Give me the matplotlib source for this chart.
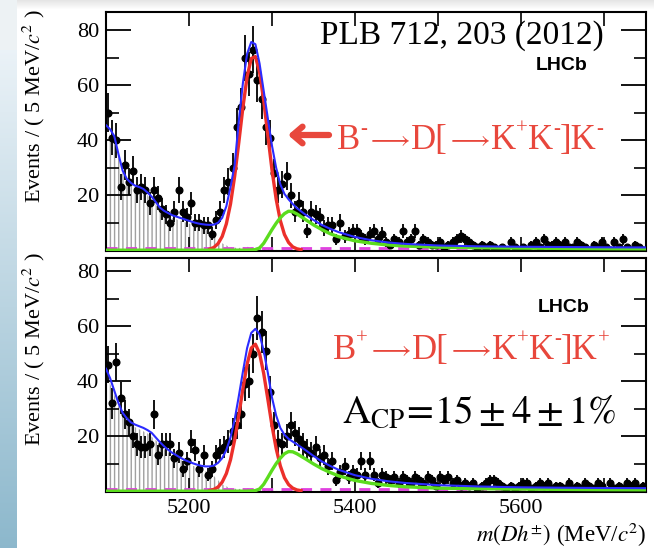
import numpy as np
import matplotlib
matplotlib.use("Agg")
import matplotlib.pyplot as plt
from matplotlib.ticker import MultipleLocator, FixedLocator, FuncFormatter

plt.rcParams['font.family'] = ['Liberation Serif', 'DejaVu Serif']
plt.rcParams['mathtext.fontset'] = 'stix'
plt.rcParams['hatch.color'] = '#9a9a9a'
plt.rcParams['hatch.linewidth'] = 1.0

# ---------------- data ----------------
bin_centers = np.arange(5102.5, 5750, 5.0)   # 130 bins of 5 MeV

top_counts = [
    50, 41, 40, 23, 31, 25, 29, 22, 23, 22,
    17, 22, 19, 15, 13, 10, 14, 22, 14, 12,
    17, 10, 10, 9, 9, 6, 11, 14, 22, 25,
    30, 45, 52, 70, 64, 73, 62, 55, 45, 41,
    28, 22, 24, 27, 20, 14, 17, 14, 7, 14,
    13, 12, 8, 9, 9, 4, 10, 5, 6, 7,
    7, 5, 4, 6, 7, 4, 6, 3, 2, 4,
    3, 7, 3, 4, 7, 2, 4, 3, 2, 2,
    3, 1, 2, 3, 4, 5, 4, 3, 2, 1,
    2, 1, 2, 1, 0, 1, 0, 3, 1, 0,
    1, 0, 2, 3, 1, 4, 2, 2, 3, 2,
    3, 1, 1, 3, 2, 1, 0, 2, 1, 3,
    1, 0, 3, 1, 4, 1, 0, 2, 1, 0]

bot_counts = [
    46, 32, 47, 34, 28, 25, 20, 17, 16, 16,
    17, 28, 13, 17, 17, 17, 12, 14, 8, 11,
    18, 15, 8, 13, 6, 8, 13, 15, 16, 18,
    22, 24, 28, 39, 40, 50, 63, 58, 51, 36,
    24, 18, 17, 20, 24, 21, 19, 17, 15, 14,
    16, 12, 13, 9, 11, 4, 7, 9, 5, 7,
    6, 11, 6, 11, 6, 3, 6, 5, 4, 5,
    3, 5, 4, 3, 5, 4, 3, 5, 4, 2,
    5, 4, 5, 3, 4, 2, 3, 2, 3, 1,
    2, 3, 4, 4, 3, 2, 1, 2, 1, 2,
    3, 3, 1, 2, 3, 2, 3, 1, 2, 2,
    1, 3, 1, 2, 1, 3, 2, 1, 3, 2,
    0, 3, 1, 2, 1, 3, 2, 3, 1, 2]

# total fit (blue)
curve_m = [5100, 5105, 5110, 5115, 5120, 5125, 5130, 5135, 5140, 5145,
           5150, 5155, 5160, 5165, 5170, 5175, 5180, 5185, 5190, 5195,
           5200, 5205, 5210, 5215, 5220, 5225, 5230, 5235, 5240, 5245,
           5250, 5255, 5260, 5265, 5270, 5275, 5280, 5285, 5290, 5295,
           5300, 5305, 5310, 5315, 5320, 5325, 5330,
           5340, 5350, 5360, 5370, 5380,
           5400, 5420, 5440, 5460,
           5500, 5550, 5600, 5650, 5700, 5750]
top_total = [45.5, 44, 41.5, 35, 29, 26, 24.5, 23.5, 23, 22.3,
             21, 19.5, 17.5, 15.5, 14.3, 13.5, 12.7, 12.2, 11.7, 11.2,
             10.7, 10.2, 9.8, 9.5, 9.3, 9.2, 9.3, 10.0, 11.8, 16,
             23, 31, 47, 61, 71.5, 75.8, 75, 68, 58, 48,
             38, 30, 24, 20.5, 18.5, 16.8, 15.3,
             13, 11, 9.2, 7.8, 6.6,
             4.8, 3.6, 2.8, 2.3,
             1.7, 1.4, 1.25, 1.15, 1.05, 1.0]
bot_total = [44.5, 41, 36.5, 32, 28.5, 26.5, 25, 24.2, 23.6, 23,
             22.2, 21.2, 19.5, 17.8, 16.3, 15, 13.9, 13, 12.1, 11.3,
             10.7, 10.1, 9.6, 9.2, 9.0, 9.0, 9.3, 10.3, 12, 15,
             19.5, 26, 34.5, 43.5, 52, 57.5, 59, 57, 51, 43,
             34, 27.5, 23, 20.5, 19, 18, 17,
             15, 12.8, 10.8, 9.2, 7.8,
             5.8, 4.5, 3.6, 3.0,
             2.2, 1.7, 1.4, 1.25, 1.15, 1.1]

# signal (red)
sig_m = [5225, 5230, 5235, 5240, 5245, 5250, 5255, 5260, 5265, 5270,
         5275, 5280, 5285, 5290, 5295, 5300, 5305, 5310, 5315, 5320,
         5325, 5330, 5335]
top_sig = [0.4, 1.0, 2.4, 5.0, 9.6, 16.8, 26.9, 39.2, 52.1, 63.1,
           69.8, 70.5, 64.9, 54.5, 41.8, 29.2, 18.6, 10.8, 5.7, 2.8,
           1.2, 0.5, 0.2]
bot_sig = [0.25, 0.65, 1.5, 3.3, 6.4, 11.4, 18.6, 27.6, 37.3, 46.1,
           52.0, 53.4, 50.1, 42.8, 33.4, 23.8, 15.5, 9.2, 4.9, 2.4,
           1.1, 0.45, 0.2]

# misidentified B->Dpi (green)
mis_m = [5100, 5200, 5270, 5280, 5285, 5290, 5295, 5300, 5305, 5310, 5315, 5320,
         5325, 5330, 5340, 5350, 5360, 5370, 5380, 5400, 5420,
         5440, 5460, 5500, 5550, 5600, 5650, 5700, 5750]
top_mis = [0.0, 0.0, 0.0, 0.2, 0.8, 2.5, 5.0, 7.5, 9.8, 11.8, 13.3, 14.2,
           14.0, 13.2, 11.2, 9.2, 7.5, 6.0, 4.9, 3.4, 2.5,
           1.9, 1.5, 1.1, 0.9, 0.75, 0.65, 0.55, 0.5]
bot_mis = [0.0, 0.0, 0.0, 0.2, 0.8, 2.5, 5.0, 7.6, 10.0, 12.0, 13.6, 14.4,
           14.3, 13.6, 11.8, 9.9, 8.2, 6.8, 5.6, 3.9, 2.8,
           2.1, 1.6, 1.1, 0.9, 0.75, 0.65, 0.55, 0.5]

# partially reconstructed background (grey hatched)
part_m = [5100, 5110, 5120, 5130, 5140, 5150, 5160, 5170, 5180, 5190,
          5200, 5210, 5220, 5230, 5240, 5250, 5260, 5270, 5280, 5290,
          5300, 5310]
top_part = [44, 40, 28, 23.5, 22, 20, 16.5, 13.3, 11.7, 10.7,
            9.7, 8.7, 7.5, 5.5, 2.5, 1.0, 0.8, 1.2, 1.0, 0.6, 0.2, 0]
bot_part = [43, 35, 27, 24, 22.5, 21, 18.5, 15.3, 13, 11.3,
            9.8, 8.6, 7.3, 5.5, 2.5, 1.0, 0.8, 1.0, 0.9, 0.5, 0.2, 0]

comb_level = 0.7   # combinatorial (magenta dashed)

x_ticks_labeled = [5200, 5400, 5600]
x_ticks_minor = [5100, 5300, 5500, 5700]

# ---------------- figure ----------------
W, H = 654, 548
fig = plt.figure(figsize=(W / 100, H / 100), dpi=100)

# slide background
img = np.ones((H, W, 3))
rows = np.arange(H)
t = np.clip((rows - 50) / (H - 50), 0, 1)[:, None]
top_c = np.array([0.92, 0.95, 0.97])
bot_c = np.array([0.55, 0.72, 0.80])
strip = top_c * (1 - t) + bot_c * t
img[50:, 0:17, :] = strip[50:, None, :].repeat(17, axis=1)[:, :, :]
img[:50, 0:17, :] = np.array([0.93, 0.95, 0.96])
fade = np.linspace(0.90, 1.0, 10)[:, None, None]
img[0:10, 17:, :] = np.minimum(img[0:10, 17:, :], fade)
bg = fig.add_axes([0, 0, 1, 1], zorder=-10)
bg.imshow(img, aspect='auto', extent=[0, 1, 0, 1], interpolation='bilinear')
bg.axis('off')

ax_top = fig.add_axes([106 / W, 1 - 251 / H, (645.5 - 106) / W, (251 - 12) / H])
ax_bot = fig.add_axes([106 / W, 1 - 492 / H, (645.5 - 106) / W, (492 - 258) / H])

BLUE = '#2b2bff'
RED = '#ec2f2a'
GREEN = '#5bdc1e'
MAG = '#e040e0'
ANN_RED = '#e8473c'


def draw(ax, counts, total, sig, mis, part, ymax, bottom_panel):
    counts = np.asarray(counts, dtype=float)
    err = np.sqrt(counts)
    ax.fill_between(part_m, 0, part, facecolor='none', edgecolor='#a0a0a0',
                    hatch='||||', linewidth=0, zorder=1)
    ax.axhline(comb_level, color=MAG, lw=2.0, dashes=(4, 3), zorder=2)
    ax.errorbar(bin_centers, counts, yerr=err, fmt='o', ms=4.8, color='black',
                elinewidth=1.3, capsize=0, zorder=3)
    ax.plot(sig_m, sig, color=RED, lw=2.4, zorder=4)
    ax.plot(mis_m, mis, color=GREEN, lw=2.4, zorder=4)
    ax.plot(curve_m, total, color=BLUE, lw=1.5, zorder=5)

    ax.set_xlim(5100, 5750)
    ax.set_ylim(-0.3, ymax)
    ax.xaxis.set_major_locator(FixedLocator(x_ticks_labeled))
    ax.xaxis.set_minor_locator(FixedLocator(x_ticks_minor))
    ax.yaxis.set_major_locator(MultipleLocator(20))
    ax.yaxis.set_minor_locator(MultipleLocator(10))
    ax.yaxis.set_major_formatter(FuncFormatter(lambda v, p: '' if v <= 0 else '%d' % v))
    ax.tick_params(axis='x', which='both', direction='in', top=True, bottom=True,
                   length=10, width=1.2, labelsize=16, pad=5)
    ax.tick_params(axis='y', which='major', direction='in', left=True, right=True,
                   length=18, width=1.3, labelsize=16, pad=5)
    ax.tick_params(axis='y', which='minor', direction='in', left=True, right=True,
                   length=9, width=1.2)
    for s in ax.spines.values():
        s.set_linewidth(1.5)
    if not bottom_panel:
        ax.tick_params(axis='x', labelbottom=False)


draw(ax_top, top_counts, top_total, top_sig, top_mis, top_part, (250.5 - 12) / 2.75, False)
draw(ax_bot, bot_counts, bot_total, bot_sig, bot_mis, bot_part, (491 - 258) / 2.75, True)


def ftext(x, y, s, **kw):
    return fig.text(x / W, 1 - y / H, s, **kw)


# axis titles
ylab = r'Events / ( 5 MeV/$c^{2}$ )'
ftext(34, 9, ylab, rotation=90, ha='center', va='top', fontsize=16)
ftext(34, 252, ylab, rotation=90, ha='center', va='top', fontsize=16)
ftext(646, 535, r'$m(Dh^{\pm})$ (MeV/$c^{2}$)', ha='right', va='center', fontsize=16.5)

# annotations
ftext(462, 36, 'PLB 712, 203 (2012)', ha='center', va='center', fontsize=24)
ftext(562, 66, 'LHCb', ha='center', va='center', fontsize=14,
      family=['Liberation Sans', 'DejaVu Sans'], weight='bold')
ftext(564, 307, 'LHCb', ha='center', va='center', fontsize=14,
      family=['Liberation Sans', 'DejaVu Sans'], weight='bold')

ser = ['Liberation Serif', 'DejaVu Serif']
renderer = fig.canvas.get_renderer()
STYLE = {'m': (25, 0), 's': (15, 15), 'a': (18, 3)}   # size, raise (px)
ARROW = r'$\longrightarrow$'


def rich(x, y_base, pieces, color):
    cur = x
    for s, kind in pieces:
        size, dy = STYLE[kind]
        txt = ftext(cur, y_base - dy, s, ha='left', va='baseline',
                    fontsize=size, color=color, family=ser)
        cur += txt.get_window_extent(renderer).width


decay_top = [('B', 'm'), ('-', 's'), (ARROW, 'a'), ('D[', 'm'), (ARROW, 'a'),
             ('K', 'm'), ('+', 's'), ('K', 'm'), ('-', 's'), (']K', 'm'), ('-', 's')]
decay_bot = [('B', 'm'), ('+', 's'), (ARROW, 'a'), ('D[', 'm'), (ARROW, 'a'),
             ('K', 'm'), ('+', 's'), ('K', 'm'), ('-', 's'), (']K', 'm'), ('+', 's')]
rich(337, 149, decay_top, ANN_RED)
rich(333, 359, decay_bot, ANN_RED)

ftext(342, 413, r'$\mathrm{A_{CP}\!=\!15 \pm 4 \pm 1\%}$',
      ha='left', va='center', fontsize=28, color='black')

for (xt, xh, y) in [(329, 288, 135), (331, 290, 346)]:
    ax_top.annotate('', xy=(xh, H - y), xycoords='figure pixels',
                    xytext=(xt, H - y), textcoords='figure pixels',
                    arrowprops=dict(arrowstyle='->,head_length=0.7,head_width=0.6',
                                    lw=4.5, color=ANN_RED, shrinkA=0, shrinkB=0),
                    annotation_clip=False)

fig.savefig('out.png', dpi=100)
